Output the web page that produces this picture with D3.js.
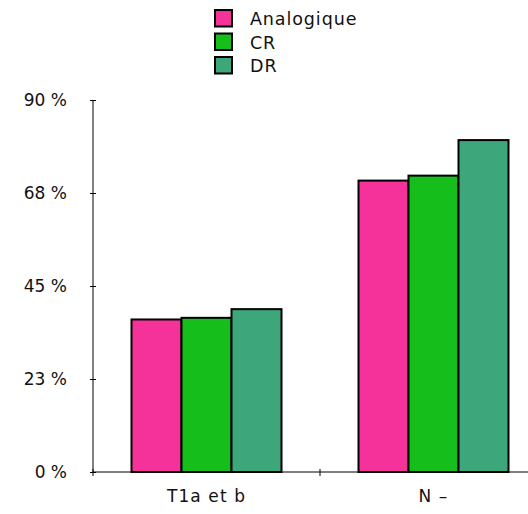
<!DOCTYPE html>
<html><head><meta charset="utf-8">
<script src="https://cdn.jsdelivr.net/npm/d3@7"></script>
<style>body{margin:0;background:#fff}svg{display:block}text{font-family:"DejaVu Sans",sans-serif;fill:#111}</style>
</head><body>
<svg id="c" width="528" height="514"></svg>
<script>
const categories = ["T1a et b", "N \u2013"];
const seriesNames = ["Analogique", "CR", "DR"];
const seriesColors = ["#f5329a", "#15be1b", "#3ea67b"];
const analogique = [36.9, 70.5];
const cr = [37.3, 71.7];
const dr = [39.4, 80.3];
const yTicks = [0, 22.5, 45, 67.5, 90];
const values = [analogique, cr, dr];

(function(){
const svg = d3.select("#c");
const mLeft = 93, mBottom = 472, mTop = 100, mRight = 547;
const y = d3.scaleLinear().domain([0, 90]).range([mBottom, mTop]);
const x0 = d3.scaleBand().domain(categories).range([mLeft, mRight]).paddingInner(0).paddingOuter(0);
const x1 = d3.scaleBand().domain(seriesNames).range([38.5, x0.bandwidth() - 38.5]).padding(0);

// y axis
const yAxis = d3.axisLeft(y).tickValues(yTicks).tickSize(0).tickFormat(d => Math.round(d) + " %");
const gy = svg.append("g").attr("transform", `translate(${mLeft},0)`).call(yAxis);
gy.select(".domain").attr("stroke", "#000").attr("d", `M0,${mTop}V${mBottom}`);
gy.selectAll(".tick line").attr("x1", -3).attr("x2", 3).attr("stroke", "#000");
gy.selectAll(".tick text").attr("x", -26).attr("font-size", 17).attr("font-family", "DejaVu Sans").attr("fill", "#111");

// bars
const g = svg.append("g");
categories.forEach((c, ci) => {
  seriesNames.forEach((s, si) => {
    const v = values[si][ci];
    g.append("rect")
      .attr("x", x0(c) + x1(s))
      .attr("y", y(v))
      .attr("width", x1.bandwidth())
      .attr("height", mBottom - y(v))
      .attr("fill", seriesColors[si])
      .attr("stroke", "#000")
      .attr("stroke-width", 2);
  });
});

// x axis
const xAxis = d3.axisBottom(x0).tickSize(0);
const gx = svg.append("g").attr("transform", `translate(0,${mBottom})`).call(xAxis);
gx.select(".domain").attr("stroke", "#000").attr("d", `M${mLeft},0H${mRight}`);
gx.selectAll(".tick text").attr("y", 18).attr("font-size", 17).attr("letter-spacing", 1.1)
  .attr("font-family", "DejaVu Sans").attr("fill", "#111");
[mLeft, x0(categories[1])].forEach(px => {
  svg.append("line").attr("x1", px).attr("x2", px).attr("y1", mBottom - 3).attr("y2", mBottom + 4).attr("stroke", "#000");
});

// legend
const lg = svg.append("g");
seriesNames.forEach((s, i) => {
  const yy = 10 + i * 23.5;
  lg.append("rect").attr("x", 215).attr("y", yy).attr("width", 17).attr("height", 16.5)
    .attr("fill", seriesColors[i]).attr("stroke", "#000").attr("stroke-width", 2);
  lg.append("text").attr("x", 250).attr("y", yy + 15).attr("font-size", 17.5).attr("letter-spacing", 0.9).text(s);
});
})();
</script>
</body></html>
